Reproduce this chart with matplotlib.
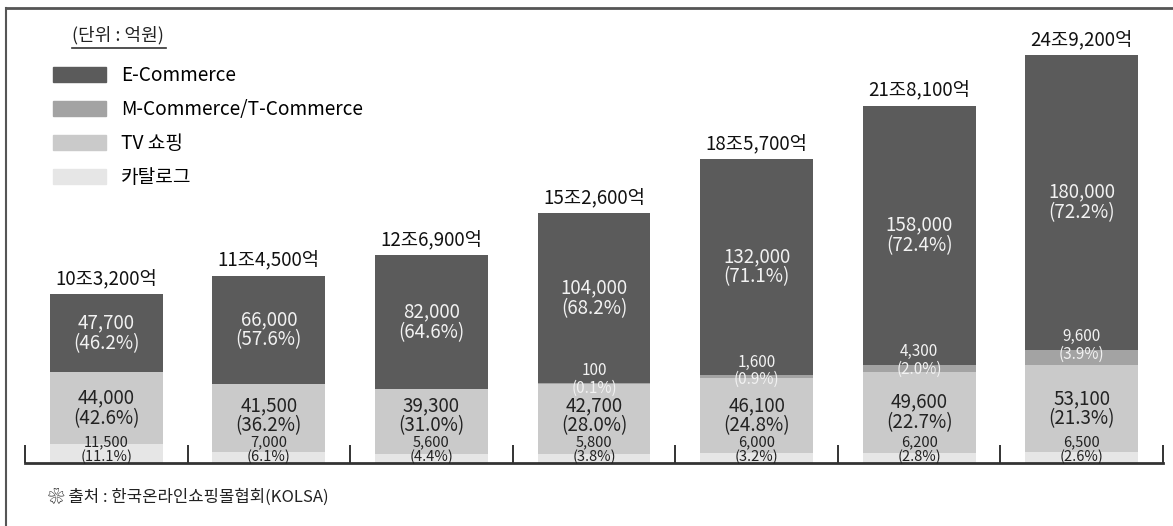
import matplotlib
matplotlib.use("Agg")
import matplotlib.pyplot as plt
from matplotlib.patches import Patch
from matplotlib.lines import Line2D
import numpy as np

plt.rcParams['font.family'] = ['Noto Sans CJK KR', 'DejaVu Sans']

# data (단위: 억원)
series = ['E-Commerce', 'M-Commerce/T-Commerce', 'TV 쇼핑', '카탈로그']
e_com = [47700, 66000, 82000, 104000, 132000, 158000, 180000]
m_com = [0, 0, 0, 100, 1600, 4300, 9600]
tv = [44000, 41500, 39300, 42700, 46100, 49600, 53100]
catalog = [11500, 7000, 5600, 5800, 6000, 6200, 6500]
e_pct = ['46.2%', '57.6%', '64.6%', '68.2%', '71.1%', '72.4%', '72.2%']
m_pct = ['', '', '', '0.1%', '0.9%', '2.0%', '3.9%']
tv_pct = ['42.6%', '36.2%', '31.0%', '28.0%', '24.8%', '22.7%', '21.3%']
cat_pct = ['11.1%', '6.1%', '4.4%', '3.8%', '3.2%', '2.8%', '2.6%']
totals = ['10조3,200억', '11조4,500억', '12조6,900억', '15조2,600억',
          '18조5,700억', '21조8,100억', '24조9,200억']

colors = ['#5b5b5b', '#a3a3a3', '#cacaca', '#e6e6e6']
dark = '#222222'
light = '#f2f2f2'

fig = plt.figure(figsize=(11.73, 5.26), dpi=100)
ax = fig.add_axes([25/1173, 63/526, 1138/1173, 455/526])

x = np.arange(len(e_com))
w = 0.695
cat = np.array(catalog)
tvv = np.array(tv)
mm = np.array(m_com)
ee = np.array(e_com)

ax.bar(x, cat, w, color=colors[3], zorder=2)
ax.bar(x, tvv, w, bottom=cat, color=colors[2], zorder=2)
ax.bar(x, mm, w, bottom=cat + tvv, color=colors[1], zorder=2)
ax.bar(x, ee, w, bottom=cat + tvv + mm, color=colors[0], zorder=2)

top = cat + tvv + mm + ee
ymax = top.max() * 455 / 408
ax.set_xlim(-0.5, 6.5)
ax.set_ylim(0, ymax)
per_px = ymax / 455  # data units per pixel

for i in range(len(x)):
    # 카탈로그 label sits just above the baseline
    ax.annotate('{:,}\n({})'.format(catalog[i], cat_pct[i]), (x[i], 0),
                xytext=(0, 9.5), textcoords='offset points', ha='center', va='center',
                fontsize=10.5, color=dark, linespacing=1.0, zorder=3)
    tv_y = max(cat[i] + tvv[i] / 2, 47 * per_px)
    ax.text(x[i], tv_y, '{:,}\n({})'.format(tv[i], tv_pct[i]),
            ha='center', va='center', fontsize=13.5, color=dark, linespacing=0.95, zorder=3)
    if m_com[i] > 0:
        ax.annotate('{:,}\n({})'.format(m_com[i], m_pct[i]), (x[i], cat[i] + tvv[i] + mm[i]),
                    xytext=(0, 3), textcoords='offset points', ha='center', va='center',
                    fontsize=11, color=light, linespacing=1.05, zorder=3)
    ax.text(x[i], cat[i] + tvv[i] + mm[i] + ee[i] / 2, '{:,}\n({})'.format(e_com[i], e_pct[i]),
            ha='center', va='center', fontsize=13.5, color=light, linespacing=0.95, zorder=3)
    ax.annotate(totals[i], (x[i], top[i]), xytext=(0, 3), textcoords='offset points',
                ha='center', va='bottom', fontsize=13.5, color='#111111')

ax.set_xticks(np.arange(-0.5, 7, 1))
ax.set_yticks([])
ax.tick_params(axis='x', direction='in', length=13, width=1.4, color='#333333',
               labelbottom=False)
for s in ['top', 'left', 'right']:
    ax.spines[s].set_visible(False)
ax.spines['bottom'].set_linewidth(2)
ax.spines['bottom'].set_color('#333333')

# legend
handles = [Patch(color=c) for c in colors]
fig.legend(handles, series, loc='upper left', bbox_to_anchor=(53/1173, 1 - 65/526),
           frameon=False, fontsize=13.75, handlelength=2.78, handleheight=0.84,
           labelspacing=0.68, handletextpad=0.78, borderpad=0, borderaxespad=0)

fig.text(72/1173, 1 - 35/526, '(단위 : 억원)', fontsize=13, color=dark, va='center')
fig.add_artist(Line2D([72/1173, 166/1173], [1 - 48/526, 1 - 48/526],
                      color='#333333', lw=1.2))

fig.text(48/1173, 1 - 497/526, '❀ 출처 : 한국온라인쇼핑몰협회(KOLSA)', fontsize=12,
         color=dark, va='center')

# frame
fig.add_artist(Line2D([6/1173, 1], [1 - 8/526, 1 - 8/526], color='#555555', lw=2))
fig.add_artist(Line2D([6/1173, 6/1173], [0, 1 - 8/526], color='#555555', lw=1.5))

fig.savefig('out.png', dpi=100)
